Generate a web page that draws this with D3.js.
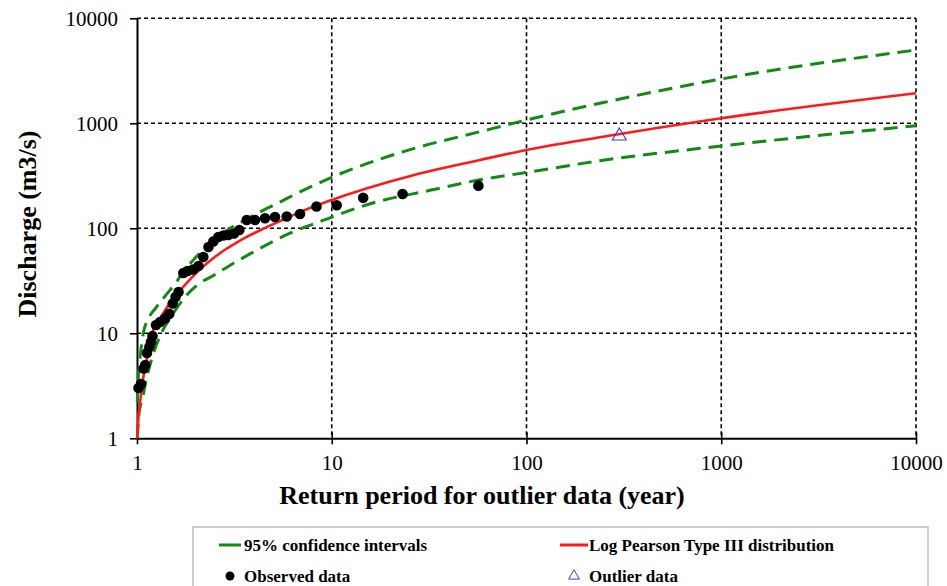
<!DOCTYPE html>
<html>
<head>
<meta charset="utf-8">
<script src="https://cdn.jsdelivr.net/npm/d3@7"></script>
<style>
  html, body { margin: 0; padding: 0; background: #fff; }
  svg { display: block; font-family: "Liberation Serif", "Times New Roman", serif; }
</style>
</head>
<body>
<svg id="chart" width="947" height="586"></svg>
<script>
// ---------------- data ----------------
const tickValues = [1, 10, 100, 1000, 10000];
const xTitle = "Return period for outlier data (year)";
const yTitle = "Discharge (m3/s)";

const observedT = [1.018, 1.048, 1.082, 1.103, 1.125, 1.157, 1.180, 1.201, 1.252, 1.313,
  1.393, 1.465, 1.525, 1.577, 1.634, 1.729, 1.816, 1.939, 2.069, 2.190,
  2.328, 2.465, 2.615, 2.775, 2.943, 3.148, 3.352, 3.659, 4.036, 4.543,
  5.113, 5.871, 6.871, 8.35, 10.6, 14.5, 23.1, 56.6];
const observedQ = [3.01, 3.29, 4.62, 4.99, 6.49, 7.41, 8.26, 9.42, 12.0, 12.8,
  13.8, 15.3, 19.2, 22.2, 24.7, 37.5, 39.2, 40.5, 43.8, 53.3,
  66.4, 74.9, 82.6, 85.4, 86.3, 89.2, 96.3, 120, 120, 124.5,
  128, 129.5, 136.7, 161.4, 165.6, 195.6, 212.4, 254.7];

const outlierT = [299.6];
const outlierQ = [757];

const lp3T = [1.003, 1.02, 1.04, 1.07, 1.103, 1.15, 1.194, 1.3, 1.398, 1.55, 1.763, 2.0, 2.235,
  2.5, 2.83, 3.2, 3.58, 4.4, 5.42, 7, 9.42, 26.2, 57.7, 100, 238, 1000, 10000];
const lp3Q = [1.0, 1.7, 2.31, 3.5, 4.81, 7, 10, 13.5, 16.7, 22, 28.8, 37, 44.7,
  53, 62.5, 72, 81, 98, 117, 145, 179, 320, 447, 557, 736, 1116, 1931];

const upperT = [1.003, 1.02, 1.04, 1.077, 1.15, 1.25, 1.35, 1.477, 1.6, 1.73, 1.91, 2.1, 2.32,
  2.57, 2.88, 3.2, 3.6, 4.0, 4.5, 5.0, 6.0, 7.5, 10, 15, 26, 57.7, 100, 238, 1000, 10000];
const upperQ = [2.2, 4.3, 6.2, 10, 14, 17.5, 21, 25.8, 31, 39, 48, 58, 70,
  82, 95, 107, 120, 134, 150, 165, 196, 240, 306, 410, 570, 832, 1075, 1550, 2642, 4990];

const lowerT = [1.003, 1.02, 1.05, 1.077, 1.1, 1.2, 1.35, 1.5, 1.76, 2.0, 2.5, 3.1, 3.8,
  5.0, 5.87, 7, 8.4, 10, 16.4, 32, 57.7, 100, 238, 1000, 10000];
const lowerQ = [1.0, 1.6, 2.2, 2.6, 3.2, 6, 10.5, 14.5, 22, 28, 36, 46, 57,
  75, 87, 100, 113, 128, 175, 230, 290, 340, 440, 608, 948];

const legendItems = [
  { label: "95% confidence intervals", kind: "green" },
  { label: "Log Pearson Type III distribution", kind: "red" },
  { label: "Observed data", kind: "dot" },
  { label: "Outlier data", kind: "tri" }
];

// ---------------- drawing ----------------
const GREEN = "#138a13";
const RED = "#ff1a1a";
const BLUE = "#3a3ad6";

const svg = d3.select("#chart");
const pLeft = 137, pRight = 916, pTop = 18.3, pBottom = 438.3;

const x = d3.scaleLog().domain([1, 10000]).range([pLeft, pRight]);
const y = d3.scaleLog().domain([1, 10000]).range([pBottom, pTop]);

// gridlines (dashed)
const grid = svg.append("g");
grid.selectAll("line.h").data(tickValues.slice(1)).join("line").attr("class", "h")
  .attr("x1", pLeft).attr("x2", pRight)
  .attr("y1", d => y(d)).attr("y2", d => y(d))
  .attr("stroke", "#000").attr("stroke-width", 1.6).attr("stroke-dasharray", "4,3");
grid.selectAll("line.v").data(tickValues.slice(1)).join("line").attr("class", "v")
  .attr("y1", pTop).attr("y2", pBottom)
  .attr("x1", d => x(d)).attr("x2", d => x(d))
  .attr("stroke", "#000").attr("stroke-width", 1.6).attr("stroke-dasharray", "4,3");

// axes
const yAxis = svg.append("g").attr("transform", `translate(${pLeft},0)`)
  .call(d3.axisLeft(y).tickValues(tickValues).tickFormat(d3.format("d")).tickSize(7).tickSizeOuter(0));
yAxis.select(".domain").attr("stroke", "#000").attr("stroke-width", 2);
yAxis.selectAll(".tick line").attr("x1", 0).attr("x2", -7).attr("stroke-width", 1.6);
yAxis.selectAll(".tick text").attr("x", -19).attr("dy", "0.34em")
  .style("font-size", "21px").style("font-family", "Liberation Serif").attr("fill", "#000");

const xAxis = svg.append("g").attr("transform", `translate(0,${pBottom})`)
  .call(d3.axisBottom(x).tickValues(tickValues).tickFormat(d3.format("d")).tickSize(6).tickSizeOuter(0));
xAxis.select(".domain").attr("stroke", "#000").attr("stroke-width", 2);
xAxis.selectAll(".tick line").attr("y1", -6).attr("y2", 6).attr("stroke-width", 1.6);
xAxis.selectAll(".tick text").attr("y", 25).attr("dy", "0.34em")
  .style("font-size", "21px").style("font-family", "Liberation Serif").attr("fill", "#000");

// axis titles
svg.append("text").attr("x", 482).attr("y", 495).attr("dy", "0.35em")
  .attr("text-anchor", "middle").style("font-size", "26px").style("font-weight", "bold")
  .text(xTitle);
svg.append("text").attr("transform", "translate(27,224) rotate(-90)").attr("dy", "0.35em")
  .attr("text-anchor", "middle").style("font-size", "26px").style("font-weight", "bold")
  .text(yTitle);

// curves
const line = d3.line().x(d => x(d[0])).y(d => y(d[1])).curve(d3.curveMonotoneX);
const zip = (a, b) => a.map((v, i) => [v, b[i]]);

svg.append("path").datum(zip(upperT, upperQ)).attr("d", line)
  .attr("fill", "none").attr("stroke", GREEN).attr("stroke-width", 3).attr("stroke-dasharray", "14,8");
svg.append("path").datum(zip(lowerT, lowerQ)).attr("d", line)
  .attr("fill", "none").attr("stroke", GREEN).attr("stroke-width", 3).attr("stroke-dasharray", "14,8");
svg.append("path").datum(zip(lp3T, lp3Q)).attr("d", line)
  .attr("fill", "none").attr("stroke", RED).attr("stroke-width", 2.6);

// observed points
svg.append("g").selectAll("circle").data(zip(observedT, observedQ)).join("circle")
  .attr("cx", d => x(d[0])).attr("cy", d => y(d[1])).attr("r", 5.3).attr("fill", "#000");

// outlier
const tri = d3.symbol().type(d3.symbolTriangle).size(85);
svg.append("g").selectAll("path").data(zip(outlierT, outlierQ)).join("path")
  .attr("d", tri).attr("transform", d => `translate(${x(d[0])},${y(d[1])})`)
  .attr("fill", "none").attr("stroke", BLUE).attr("stroke-width", 1.1);

// legend
const lg = svg.append("g");
lg.append("rect").attr("x", 193).attr("y", 527).attr("width", 735).attr("height", 80)
  .attr("fill", "#fff").attr("stroke", "#bfbfbf").attr("stroke-width", 1.5);
const pos = [[230, 545], [574, 545], [230, 576], [574, 576]];
legendItems.forEach((it, i) => {
  const [cx, cy] = pos[i];
  if (it.kind === "green") {
    lg.append("line").attr("x1", cx - 11).attr("x2", cx + 11).attr("y1", cy).attr("y2", cy)
      .attr("stroke", GREEN).attr("stroke-width", 3);
  } else if (it.kind === "red") {
    lg.append("line").attr("x1", cx - 14).attr("x2", cx + 14).attr("y1", cy).attr("y2", cy)
      .attr("stroke", RED).attr("stroke-width", 3);
  } else if (it.kind === "dot") {
    lg.append("circle").attr("cx", cx).attr("cy", cy).attr("r", 4.5).attr("fill", "#000");
  } else {
    lg.append("path").attr("d", d3.symbol().type(d3.symbolTriangle).size(50))
      .attr("transform", `translate(${cx},${cy})`).attr("fill", "none").attr("stroke", BLUE).attr("stroke-width", 1);
  }
  lg.append("text").attr("x", cx + (it.kind === "red" || it.kind === "tri" ? 15 : 14))
    .attr("y", cy).attr("dy", "0.35em")
    .style("font-size", "17px").style("font-weight", "bold").text(it.label);
});
</script>
</body>
</html>
